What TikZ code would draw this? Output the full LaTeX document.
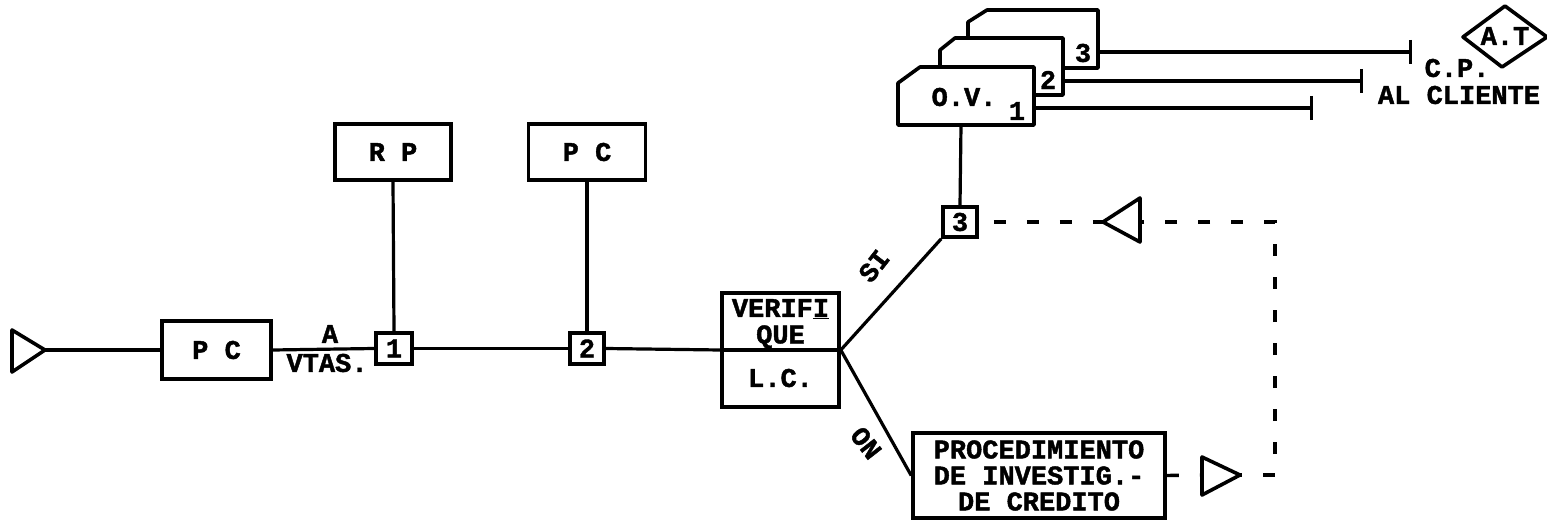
\documentclass[tikz,border=0pt]{standalone}
\usepackage{fontspec}
\newfontfamily\tw[FakeBold=1.5]{Liberation Mono Bold}
\usetikzlibrary{arrows.meta}
\begin{document}
\begin{tikzpicture}[x=1pt,y=-1pt,
  every node/.style={font=\tw\bfseries\fontsize{27}{29}\selectfont, inner sep=0pt},
  box/.style={draw, line width=3.6pt, rectangle},
  conn/.style={line width=3.2pt},
  dconn/.style={line width=3.4pt, dash pattern=on 12pt off 21pt},
  tri/.style={line width=3.6pt, line join=round},
  card/.style={line width=3.6pt, line join=round},
  endbar/.style={conn, -{Bar[width=24pt,line width=3.2pt]}}
]
\useasboundingbox (0,0) rectangle (1547,521);

% start triangle
\draw[tri] (12,330) -- (45,350) -- (12,372) -- cycle;
\coordinate (s) at (45,350);

% boxes
\node[box, minimum width=109pt, minimum height=58pt] (pc1) at (216.5,350) {P C};
\node[box, minimum width=36pt, minimum height=31pt] (b1) at (394,348.5) {1};
\node[box, minimum width=34pt, minimum height=31pt] (b2) at (587,348.5) {2};
\node[box, minimum width=116pt, minimum height=56pt] (rp) at (393,152) {R P};
\node[box, minimum width=117pt, minimum height=56pt] (pc2) at (587,152) {P C};
\node[box, minimum width=117pt, minimum height=114pt] (v) at (780.5,350) {};
\draw[line width=3.6pt] (v.west) -- (v.east);
\node (vt1) at (780.5,309) {VERIF\underline{I}};
\node (vt2) at (780.5,337) {QUE};
\node (vt3) at (780.5,378) {L.C.};
\node[box, minimum width=34pt, minimum height=30pt] (b3) at (960,222) {3};
\node[box, minimum width=252pt, minimum height=85pt, align=center] (pr) at (1039,475.5)
  {PROCEDIMIENTO\\[-3pt]DE INVESTIG.-\\[-3pt]DE CREDITO};

% main line
\draw[conn] (s) -- (pc1.west);
\draw[conn] (pc1.east) -- (b1.west);
\draw[conn] (b1.east) -- (b2.west);
\draw[conn] (b2.east) -- (v.west);
\draw[conn] (rp.south) -- (b1.north);
\draw[conn] (pc2.south) -- (b2.north);
\node (la) at (330,334) {A};
\node (lv) at (327,363) {VTAS.};

% branches
\draw[conn] (v.east) -- (b3.south west);
\draw[conn] (v.east) -- (pr.west);
\node[rotate=52] (lsi) at (874,266) {SI};
\node[rotate=-52] (lon) at (866,443) {ON};

% cards O.V.
\draw[card] (968,38) -- (968,22) -- (987,10) -- (1098,10) -- (1098,68) -- (1063,68);
\draw[card] (940,67) -- (940,50) -- (955,38) -- (1063,38) -- (1063,95) -- (1034,95);
\draw[card] (898,125) -- (898,83) -- (920,67) -- (1034,67) -- (1034,125) -- cycle;
\coordinate (c1b) at (961,125);
\coordinate (c1r) at (1034,108);
\coordinate (c2r) at (1063,81);
\coordinate (c3r) at (1098,52);
\node (ov) at (964,97) {O.V.};
\node (n1) at (1017,111) {1};
\node (n2) at (1048,80) {2};
\node (n3) at (1083,53) {3};
\draw[conn] (c1b) -- (b3.north);

% lines to C.P.
\coordinate (e1) at (1313,108);
\coordinate (e2) at (1363,81);
\coordinate (e3) at (1412,52);
\draw[endbar] (c1r) -- (e1);
\draw[endbar] (c2r) -- (e2);
\draw[endbar] (c3r) -- (e3);
\node (cp) at (1457,68) {C.P.};
\node (alc) at (1459,95) {AL CLIENTE};
\draw[card] (1463,37) -- (1505,6) -- (1547,37) -- (1502,67) -- cycle;
\node (at) at (1505,36) {A.T};

% feedback triangles and dashed path
\draw[tri] (1103,222) -- (1140,198) -- (1140,242) -- cycle;
\coordinate (t1a) at (1103,222);
\coordinate (t1b) at (1140,222);
\draw[tri] (1202,457) -- (1240,475) -- (1202,495) -- cycle;
\coordinate (t2a) at (1240,475);
\coordinate (t2b) at (1202,475);
\coordinate (corner1) at (1275,222);
\coordinate (corner2) at (1275,475);
\draw[dconn, dash phase=18pt] (b3.east) -- (t1a);
\draw[dconn, dash phase=-23pt] (t2a) -- (corner2) -- (corner1) -- (t1b);
\draw[dconn] (pr.east) -- (t2b);
\end{tikzpicture}
\end{document}
